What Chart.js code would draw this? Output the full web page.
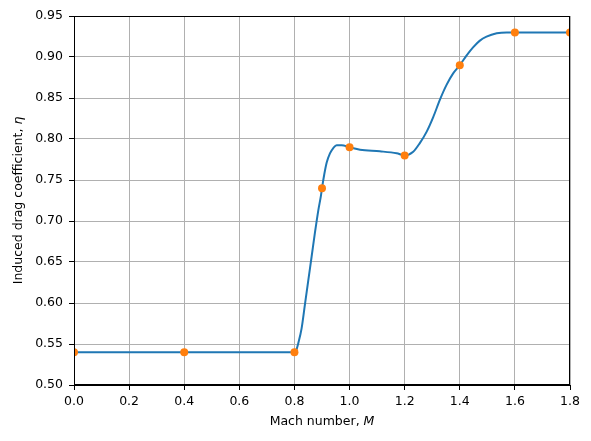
<!DOCTYPE html>
<html>
<head>
<meta charset="utf-8">
<script src="https://cdn.jsdelivr.net/npm/chart.js@4.4.1/dist/chart.umd.min.js"></script>
<style>
  html, body { margin: 0; padding: 0; background: #fff; }
  #wrap { width: 591px; height: 441px; }
</style>
</head>
<body>
<div id="wrap"><canvas id="dragChart" width="591" height="441"></canvas></div>
<script>
// Measured points (orange markers)
const machPts = [0, 0.4, 0.8, 0.9, 1.0, 1.2, 1.4, 1.6, 1.8];
const etaPts = [0.54, 0.54, 0.54, 0.74, 0.79, 0.78, 0.89, 0.93, 0.93];

// Smooth curve
const machCurve = [0, 0.4, 0.8, 0.806, 0.814, 0.826, 0.838, 0.850, 0.8625, 0.8745, 0.8866, 0.8962,
  0.9, 0.9083, 0.9168, 0.9289, 0.941, 0.9531, 0.9713, 1.0, 1.038, 1.11, 1.171, 1.2, 1.231, 1.255,
  1.28, 1.304, 1.328, 1.352, 1.376, 1.4, 1.425, 1.449, 1.473, 1.497, 1.534, 1.57, 1.6, 1.8];
const etaCurve = [0.54, 0.54, 0.54, 0.542, 0.551, 0.569, 0.598, 0.627, 0.657, 0.686, 0.713, 0.731,
  0.74, 0.757, 0.771, 0.7825, 0.789, 0.7925, 0.7925, 0.79, 0.787, 0.785, 0.7825, 0.78, 0.7845, 0.795,
  0.809, 0.827, 0.848, 0.866, 0.880, 0.89, 0.902, 0.912, 0.920, 0.9248, 0.9289, 0.930, 0.93, 0.93];

// Axis ticks
const xTicks = [0, 0.2, 0.4, 0.6, 0.8, 1.0, 1.2, 1.4, 1.6, 1.8];
const yTicks = [0.5, 0.55, 0.6, 0.65, 0.7, 0.75, 0.8, 0.85, 0.9, 0.95];

const FONT = 'DejaVu Sans';
const FSIZE = 12.5;

// matplotlib style frame + axis labels with italic symbols
const framePlugin = {
  id: 'frame',
  afterDraw(chart) {
    const { ctx, chartArea: a } = chart;
    ctx.save();
    ctx.strokeStyle = '#000';
    ctx.lineWidth = 1;
    ctx.strokeRect(Math.round(a.left) + 0.5, Math.round(a.top) + 0.5,
      Math.round(a.right - a.left) - 1, Math.round(a.bottom - a.top) - 1);

    function mixed(parts, cx, cy) {
      let total = 0;
      parts.forEach(p => {
        ctx.font = (p.it ? 'italic ' : '') + FSIZE + 'px "' + FONT + '"';
        p.w = ctx.measureText(p.t).width;
        total += p.w;
      });
      let x = cx - total / 2;
      parts.forEach(p => {
        ctx.font = (p.it ? 'italic ' : '') + FSIZE + 'px "' + FONT + '"';
        ctx.fillText(p.t, x, cy);
        x += p.w;
      });
    }
    ctx.fillStyle = '#000';
    ctx.textAlign = 'left';
    ctx.textBaseline = 'middle';
    mixed([{ t: 'Mach number, ' }, { t: 'M', it: true }], (a.left + a.right) / 2, 422);

    ctx.translate(19, (a.top + a.bottom) / 2);
    ctx.rotate(-Math.PI / 2);
    mixed([{ t: 'Induced drag coefficient, ' }, { t: '\u03b7', it: true }], 0, 0);
    ctx.restore();
  }
};

const ctx = document.getElementById('dragChart').getContext('2d');
const chart = new Chart(ctx, {
  type: 'scatter',
  data: {
    datasets: [{
      data: machPts.map((m, i) => ({ x: m, y: etaPts[i] })),
      backgroundColor: '#ff7f0e',
      borderWidth: 0,
      pointRadius: 4,
      order: 0
    }, {
      data: machCurve.map((m, i) => ({ x: m, y: etaCurve[i] })),
      showLine: true,
      borderColor: '#1f77b4',
      borderWidth: 2,
      pointRadius: 0,
      cubicInterpolationMode: 'monotone',
      order: 1
    }]
  },
  options: {
    responsive: false,
    animation: false,
    events: [],
    layout: { padding: { left: 0, top: 16, right: 21, bottom: 0 } },
    plugins: { legend: { display: false }, tooltip: { enabled: false } },
    scales: {
      x: {
        type: 'linear',
        min: 0, max: 1.8,
        afterBuildTicks: s => { s.ticks = xTicks.map(v => ({ value: v })); },
        afterFit: s => { s.height = 56; },
        grid: { color: '#b0b0b0', lineWidth: 1, tickColor: '#000', tickLength: 5 },
        border: { color: '#000', width: 1 },
        ticks: {
          color: '#000', padding: 4, maxRotation: 0,
          font: { family: FONT, size: FSIZE },
          callback: v => v.toFixed(1)
        }
      },
      y: {
        type: 'linear',
        min: 0.5, max: 0.95,
        afterBuildTicks: s => { s.ticks = yTicks.map(v => ({ value: v })); },
        afterFit: s => { s.width = 74; },
        grid: { color: '#b0b0b0', lineWidth: 1, tickColor: '#000', tickLength: 5 },
        border: { color: '#000', width: 1 },
        ticks: {
          color: '#000', padding: 6,
          font: { family: FONT, size: FSIZE },
          callback: v => v.toFixed(2)
        }
      }
    }
  },
  plugins: [framePlugin]
});
</script>
</body>
</html>
